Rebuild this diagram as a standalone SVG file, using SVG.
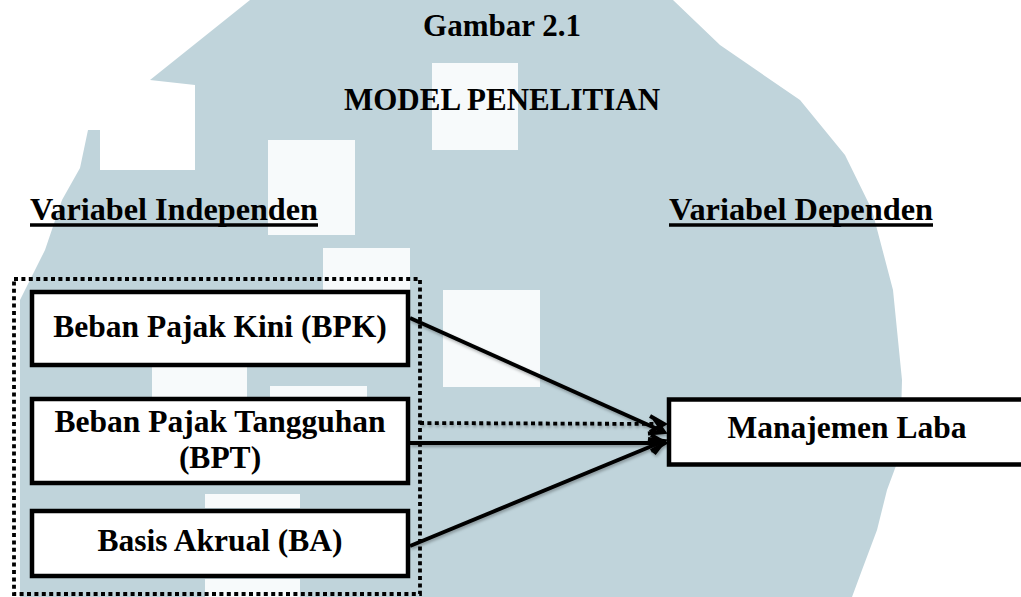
<svg xmlns="http://www.w3.org/2000/svg" width="1021" height="597" viewBox="0 0 1021 597">
  <defs>
    <style>
      .t { font-family: "Liberation Serif", "Times New Roman", serif; font-weight: bold; fill: #000; }
      .title { font-size: 31px; text-anchor: middle; }
      .lbl { font-size: 31.5px; }
      .ul { stroke: #000; stroke-width: 3.5; }
      .nt { font-size: 31.5px; text-anchor: middle; }
      .box { fill: #fff; stroke: #000; stroke-width: 4.5; }
      .conn { stroke: #000; stroke-width: 4; fill: none; }
      .dot { stroke: #000; stroke-width: 3.8; fill: none; stroke-dasharray: 4 3.4; }
      .wm { fill: #c0d4db; }
      .wq { fill: #f7fafb; }
    </style>
    <marker id="ah" markerUnits="userSpaceOnUse" markerWidth="24" markerHeight="24" refX="17" refY="12" orient="auto">
      <path d="M3,4 L17,12 L3,20" fill="none" stroke="#000" stroke-width="4"/>
    </marker>
    <filter id="sh" x="-10%" y="-20%" width="120%" height="140%">
      <feDropShadow dx="1" dy="2" stdDeviation="1.5" flood-color="#000" flood-opacity="0.3"/>
    </filter>
  </defs>

  <rect x="0" y="0" width="1021" height="597" fill="#fff"/>

  <g id="watermark">
    <path class="wm" d="M250,0 L673,0 L720,45 L800,100 L845,155 L872,210 L893,290 L902,380 L900,455 L887,490 L877,530 L862,570 L852,597 L20,597 L20,300 L45,250 L62,200 L80,168 L88,130 L100,130 L100,170 L195,170 L195,85 L150,80 Z"/>
    <rect class="wq" x="432" y="63" width="86" height="87"/>
    <rect class="wq" x="268" y="140" width="87" height="95"/>
    <rect class="wq" x="323" y="248" width="87" height="60"/>
    <rect class="wq" x="443" y="290" width="97" height="97"/>
    <rect class="wq" x="152" y="366" width="95" height="31"/>
    <rect class="wq" x="270" y="386" width="97" height="12"/>
    <rect class="wq" x="205" y="494" width="95" height="14"/>
    <rect class="wq" x="205" y="579" width="95" height="18"/>
  </g>

  <g id="titles">
    <text class="t title" x="502" y="36">Gambar 2.1</text>
    <text class="t title" x="502" y="110">MODEL PENELITIAN</text>
    <text class="t lbl" x="30" y="220" textLength="288" lengthAdjust="spacingAndGlyphs">Variabel Independen</text>
    <line class="ul" x1="30" y1="225" x2="318" y2="225"/>
    <text class="t lbl" x="669" y="220" textLength="264" lengthAdjust="spacingAndGlyphs">Variabel Dependen</text>
    <line class="ul" x1="669" y1="225" x2="933" y2="225"/>
  </g>

  <g id="group-independen">
    <rect class="dot" x="14" y="279" width="406" height="315"/>
  </g>

  <g id="connectors" filter="url(#sh)">
    <line class="conn" x1="410" y1="318" x2="664" y2="432" marker-end="url(#ah)"/>
    <line class="dot" x1="420" y1="423" x2="664" y2="424" marker-end="url(#ah)"/>
    <line class="conn" x1="410" y1="443" x2="665" y2="443" marker-end="url(#ah)"/>
    <line class="conn" x1="410" y1="546" x2="664" y2="441" marker-end="url(#ah)"/>
  </g>

  <g id="node-bpk">
    <rect class="box" x="32" y="292" width="376" height="73"/>
    <text class="t nt" x="220" y="337">Beban Pajak Kini (BPK)</text>
  </g>

  <g id="node-bpt">
    <rect class="box" x="32" y="399" width="376" height="84"/>
    <text class="t nt" x="220" y="432">Beban Pajak Tangguhan</text>
    <text class="t nt" x="220" y="468">(BPT)</text>
  </g>

  <g id="node-ba">
    <rect class="box" x="32" y="511" width="376" height="65"/>
    <text class="t nt" x="220" y="551">Basis Akrual (BA)</text>
  </g>

  <g id="node-ml">
    <rect class="box" x="669" y="399.5" width="370" height="65" stroke-width="5"/>
    <text class="t nt" x="847" y="438">Manajemen Laba</text>
  </g>
</svg>
